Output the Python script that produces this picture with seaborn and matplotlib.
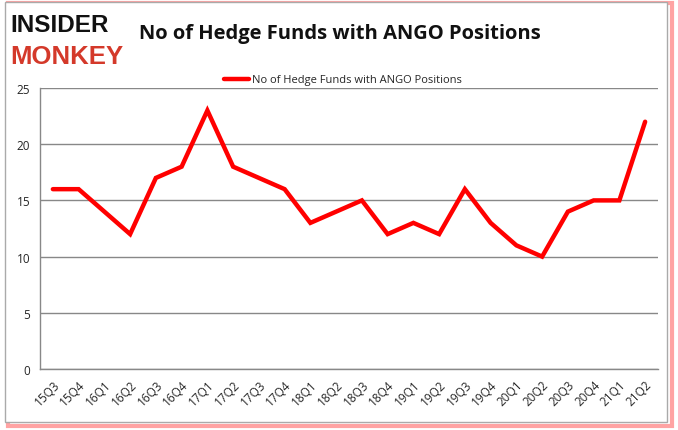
import matplotlib
matplotlib.use("Agg")
import matplotlib.pyplot as plt
import seaborn as sns
import pandas as pd
import numpy as np
from matplotlib.patches import Rectangle
from matplotlib.lines import Line2D
import matplotlib.transforms as mtransforms

quarters = ["15Q3", "15Q4", "16Q1", "16Q2", "16Q3", "16Q4", "17Q1", "17Q2", "17Q3", "17Q4",
            "18Q1", "18Q2", "18Q3", "18Q4", "19Q1", "19Q2", "19Q3", "19Q4", "20Q1", "20Q2",
            "20Q3", "20Q4", "21Q1", "21Q2"]
funds = [16, 16, 14, 12, 17, 18, 23, 18, 17, 16, 13, 14, 15, 12, 13, 12, 16, 13, 11, 10,
         14, 15, 15, 22]
y_ticks = [0, 5, 10, 15, 20, 25]
series_name = "No of Hedge Funds with ANGO Positions"
title = "No of Hedge Funds with ANGO Positions"

sns.set_style("white")
plt.rcParams['font.family'] = ['Open Sans', 'DejaVu Sans']

df = pd.DataFrame({"quarter": quarters, "funds": funds, "pos": np.arange(len(quarters))})

fig = plt.figure(figsize=(6.78, 4.31), dpi=100)
ax = fig.add_axes([40/678, 1-370/431, 618/678, 281/431])

sns.lineplot(data=df, x="pos", y="funds", ax=ax, color="#ff0000", linewidth=3.2,
             label=series_name, legend=False, solid_capstyle="round", solid_joinstyle="miter")

ax.set_xlim(-0.5, len(quarters)-0.5)
ax.set_ylim(0, 25)
ax.set_yticks(y_ticks)
ax.set_yticklabels([str(v) for v in y_ticks], fontsize=8.5)
ax.set_xticks(np.arange(len(quarters)))
ax.set_xticklabels(quarters, rotation=45, fontsize=8.5, ha="right", rotation_mode="anchor")
offset = mtransforms.ScaledTranslation(-5/100, -5/100, fig.dpi_scale_trans)
for lab in ax.get_xticklabels():
    lab.set_transform(lab.get_transform() + offset)
ax.set_xticks(np.arange(len(quarters)+1)-0.5, minor=True)
ax.tick_params(axis="x", which="major", length=0, pad=6)
ax.tick_params(axis="x", which="minor", length=5, color="#888888", width=1, direction="out")
ax.tick_params(axis="y", length=4, color="#888888", width=1, direction="out", pad=3)
ax.set_xlabel("")
ax.set_ylabel("")
ax.grid(axis="y", color="#888888", linewidth=1)
ax.set_axisbelow(True)
for s in ["top", "right"]:
    ax.spines[s].set_visible(False)
for s in ["left", "bottom"]:
    ax.spines[s].set_color("#888888")
    ax.spines[s].set_linewidth(1)

# legend
h = [Line2D([0], [0], color="#ff0000", linewidth=3.2)]
fig.legend(h, [series_name], loc="center", bbox_to_anchor=(343/678, 1-81/431),
           frameon=False, fontsize=8, handlelength=2.2, handletextpad=0.3)

fig.text(340/678, 1-34/431, title, ha="center", va="center", fontsize=14.5, fontweight="bold",
         color="#111111")

# logo
fig.text(10/678, 1-25/431, "INSIDER", ha="left", va="center", fontsize=17.5, fontweight="bold",
         color="#111111", family=["Liberation Sans", "DejaVu Sans"])
fig.text(10/678, 1-57/431, "MONKEY", ha="left", va="center", fontsize=18.5, fontweight="bold",
         color="#d4392a", family=["Liberation Sans", "DejaVu Sans"])

# frame with shadow
fig.add_artist(Rectangle((8/678, 1-427/431), 664/678, 423/431, transform=fig.transFigure,
                         facecolor="none", edgecolor="#ff6666", linewidth=3, alpha=0.6, zorder=-1))
fig.add_artist(Rectangle((5/678, 1-423/431), 662/678, 420/431, transform=fig.transFigure,
                         facecolor="white", edgecolor="#aaaaaa", linewidth=1, zorder=-0.5))

fig.savefig("out.png", dpi=100)
